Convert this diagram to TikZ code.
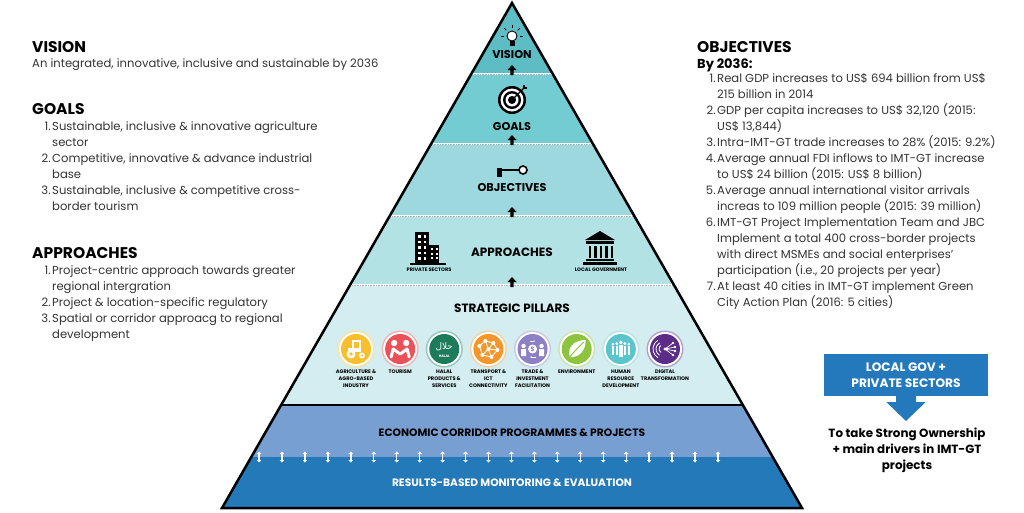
\documentclass[tikz,border=0pt]{standalone}
\usepackage{fontspec}
\setmainfont{Poppins}
\newfontfamily\arabicfont[Script=Arabic]{DejaVu Sans}
\TeXXeTstate=1
\usetikzlibrary{arrows.meta,positioning}
\definecolor{txt}{HTML}{333333}
\definecolor{visfill}{HTML}{5DBCC4}
\definecolor{goafill}{HTML}{73CCD1}
\definecolor{objfill}{HTML}{9CD8DD}
\definecolor{appfill}{HTML}{B3E2E5}
\definecolor{pilfill}{HTML}{D3EDF0}
\definecolor{ecofill}{HTML}{779FD2}
\definecolor{resfill}{HTML}{2479B8}
\definecolor{boxblue}{HTML}{2479BD}
\definecolor{agri}{HTML}{F7BE2D}
\definecolor{tour}{HTML}{EB5158}
\definecolor{halal}{HTML}{1B7B5B}
\definecolor{trans}{HTML}{F5962B}
\definecolor{trade}{HTML}{8E80C5}
\definecolor{envi}{HTML}{8CC43F}
\definecolor{human}{HTML}{5BC5CD}
\definecolor{digit}{HTML}{5C2D86}
\newcommand{\nb}[1]{\makebox[10pt][r]{#1\hspace{1.5pt}}}
\newcommand{\nx}{\hspace*{10pt}}

\begin{document}
\begin{tikzpicture}[x=1pt, y=-1pt, >=Latex]
\tikzstyle{head}=[anchor=base west, inner sep=0, font=\fontsize{15.5}{16}\selectfont\bfseries]
\tikzstyle{body}=[anchor=base west, inner sep=0, text=txt, font=\fontsize{11.6}{16}\selectfont]
\tikzstyle{lvl}=[inner sep=0, font=\fontsize{11.3}{12}\selectfont\bfseries]
\tikzstyle{big}=[inner sep=0, font=\fontsize{12}{13}\selectfont\bfseries]
\tikzstyle{band}=[inner sep=0, font=\fontsize{10.7}{12}\selectfont\bfseries]
\tikzstyle{pilt}=[inner sep=0, anchor=north, align=center, font=\fontsize{5.1}{6.7}\selectfont\bfseries]
\tikzstyle{tiny}=[inner sep=0, font=\fontsize{5}{5}\selectfont\bfseries]
\tikzstyle{box}=[fill=boxblue, text=white, minimum width=164pt, minimum height=42pt, align=center, font=\fontsize{12.2}{15.5}\selectfont\bfseries]
\tikzstyle{sep}=[white, line width=2.5]
\tikzstyle{dot}=[gray!60, line width=0.8, dash pattern=on 0.8pt off 0.8pt]
\tikzset{upa/.pic={\fill (-1.7,0) -- (-1.7,-5) -- (-4.5,-5) -- (0,-10) -- (4.5,-5) -- (1.7,-5) -- (1.7,0) -- cycle;}}

\useasboundingbox (0,0) rectangle (1024,512);

% les couches de la pyramide
\begin{scope}
\clip (512,3) -- (222,508) -- (802,508) -- cycle;
\fill[visfill] (200,0) rectangle (830,74);
\fill[goafill] (200,74) rectangle (830,144);
\fill[objfill] (200,144) rectangle (830,216);
\fill[appfill] (200,216) rectangle (830,285);
\fill[pilfill] (200,285) rectangle (830,405);
\fill[ecofill] (200,405) rectangle (830,457);
\fill[resfill] (200,457) rectangle (830,510);
\foreach \y in {74,144,216,285} {
  \draw[sep] (200,\y) -- (830,\y);
  \draw[dot] (200,\y) -- (830,\y);
}
\draw[line width=2] (200,405) -- (830,405);
\end{scope}
\draw[line width=2.5] (512,3) -- (222,508) -- (802,508) -- cycle;

\foreach \y in {75,145,217,287}
  \pic at (512,\y) {upa};
\foreach \i in {0,...,20}
  \draw[white, line width=1.4, {Triangle[length=2.5pt,width=4.5pt]}-{Triangle[length=2.5pt,width=4.5pt]}] ({259+22.95*\i},451.5) -- ({259+22.95*\i},462.5);

% icones
\foreach \a in {180,225,270,315,360}
  \draw[line width=0.7] (512,36) ++(\a:8) -- ++(\a:3);
\draw[line width=0.9, fill=white] (512,36) circle (5);
\fill (509.5,41) rectangle (514.5,46);
\foreach \r/\c in {14/black,11.5/white,9/black,6.5/white,4/black}
  \fill[\c] (512,100) circle (\r);
\draw[line width=1.3, {Latex[length=4pt]}-] (512,100) -- (524,88);
\draw[line width=1.3] (524,88) -- (527,88) (524,88) -- (524,85);
\draw[line width=2] (497,170) -- (519,170);
\draw[line width=1.6, fill=white] (523,170) circle (4);
\fill (497,168) rectangle (502,177);

\fill (415,232) rectangle (429,263);
\fill (429,245) rectangle (439,263);
\fill (410,263) rectangle (446,265);
\foreach \u in {0,1}
  \foreach \v in {0,...,4}
    \fill[white] ({418+5.5*\u},{235+5.5*\v}) rectangle ++(2.5,2.5);
\foreach \u in {0,1}
  \foreach \v in {0,1,2}
    \fill[white] ({431+4.5*\u},{248+4.5*\v}) rectangle ++(2,2);
\fill (585,240) -- (600,231) -- (615,240) -- cycle;
\fill (586,241) rectangle (614,244);
\foreach \u in {0,...,4}
  \fill ({588.5+5.5*\u},245.5) rectangle ++(2.5,12.5);
\fill (586,258.5) rectangle (614,260.5);
\fill (583,261.5) rectangle (617,264.5);
\node[tiny] (priv) at (429,269.5) {PRIVATE SECTORS};
\node[tiny] (gov) at (601,269.5) {LOCAL GOVERNMENT};

% titres des couches
\node[lvl] (visl) at (512,55) {VISION};
\node[lvl] (goal) at (512,127) {GOALS};
\node[lvl] (objl) at (512,188) {OBJECTIVES};
\node[big] (appl) at (512,252) {APPROACHES};
\node[big] (pill) at (512,308) {STRATEGIC PILLARS};
\node[band] (ecol) at (512,433) {ECONOMIC CORRIDOR PROGRAMMES \& PROJECTS};
\node[band, text=white] (resl) at (512,483) {RESULTS-BASED MONITORING \& EVALUATION};

% piliers
\foreach \c/\t [count=\i] in {agri/{AGRICULTURE \&\\AGRO-BASED\\INDUSTRY}, tour/TOURISM,
    halal/{HALAL\\PRODUCTS \&\\SERVICES}, trans/{TRANSPORT \&\\ICT\\CONNECTIVITY},
    trade/{TRADE \&\\INVESTMENT\\FACILITATION}, envi/ENVIRONMENT,
    human/{HUMAN\\RESOURCE\\DEVELOPMENT}, digit/{DIGITAL\\TRANSFORMATION}} {
  \pgfmathsetmacro\px{356+44.14*(\i-1)}
  \fill[\c!45] (\px,349) circle (18.5);
  \fill[white] (\px,349) circle (17);
  \fill[\c] (\px,349) circle (15);
  \node[pilt] (p\i) at (\px,370) {\t};
}
\begin{scope}[shift={(356,349)}, white]
\fill (-8,-1) rectangle (5,3);
\draw[line width=1.2] (-3,-1) -- (-3,-8) -- (4,-8) -- (4,-1);
\fill (-5,5) circle (4.5) (6,6.5) circle (3);
\fill[agri] (-5,5) circle (1.8) (6,6.5) circle (1.1);
\end{scope}
\begin{scope}[shift={(400.14,349)}, white]
\fill (-6,-6) circle (3.2) (6,-6) circle (3.2);
\draw[line width=3, line cap=round, line join=round] (-9,8) -- (-7,0) -- (0,5) -- (7,0) -- (9,8);
\end{scope}
\begin{scope}[shift={(444.28,349)}]
\node[text=white, inner sep=0, font=\arabicfont\fontsize{9}{9}\selectfont] (ar) at (0,-2) {\beginR حلال\endR};
\node[text=white, inner sep=0, font=\fontsize{3.5}{4}\selectfont\bfseries] (hl) at (0,7) {HALAL};
\end{scope}
\begin{scope}[shift={(488.42,349)}, white]
\draw[line width=0.9] (-9,-3) -- (-3,-8) -- (5,-6) -- (9,1) -- (3,8) -- (-6,6) -- (-9,-3)
  (-3,-8) -- (0,0) -- (5,-6) (0,0) -- (9,1) (0,0) -- (-6,6) (0,0) -- (3,8);
\foreach \q in {(-9,-3),(-3,-8),(5,-6),(9,1),(3,8),(-6,6),(0,0)}
  \fill \q circle (2);
\end{scope}
\begin{scope}[shift={(532.56,349)}, white]
\fill (0,0) circle (4.5);
\node[text=trade, inner sep=0, font=\fontsize{6}{6}\selectfont\bfseries] (usd) at (0,0) {\$};
\fill (-9,-3) circle (2.2) (9,-3) circle (2.2);
\fill (-11.5,0) rectangle (-6.5,7) (6.5,0) rectangle (11.5,7);
\draw[line width=0.8, -{Latex[length=2pt]}] (-3,-8) -- (3,-8);
\draw[line width=0.8, {Latex[length=2pt]}-] (-3,8) -- (3,8);
\end{scope}
\begin{scope}[shift={(576.70,349)}, white]
\fill (-7,8) .. controls (-10,-4) and (0,-9) .. (9,-9) .. controls (9,2) and (2,9) .. (-7,8);
\draw[envi, line width=0.9] (-7,8) .. controls (-2,2) and (3,-3) .. (7,-7);
\end{scope}
\begin{scope}[shift={(620.84,349)}, white]
\foreach \u/\s in {-8/0.8,-4/0.9,0/1.1,4/0.9,8/0.8} {
  \fill (\u,{-6*\s}) circle ({1.8*\s});
  \fill ({\u-1.5*\s},{-3.5*\s}) rectangle ({\u+1.5*\s},{7*\s});
}
\end{scope}
\begin{scope}[shift={(664.98,349)}, white]
\foreach \r in {4,7,10}
  \draw[line width=0.8] (-2,0) ++(120:\r) arc (120:240:\r);
\draw[line width=0.7] (0,0) -- (8,-6) (0,0) -- (10,-2) (0,0) -- (10,2) (0,0) -- (8,6);
\foreach \q in {(8,-6),(10,-2),(10,2),(8,6)}
  \fill \q circle (1.3);
\fill (0,0) circle (1.6);
\end{scope}

% texte de gauche
\node[head] (vision) at (32,52.5) {VISION};
\node[body] (vtxt) at (32,67) {An integrated, innovative, inclusive and sustainable by 2036};
\node[head] (goals) at (32,114.5) {GOALS};
\foreach \t [count=\i] in {{\nb{1.}Sustainable, inclusive \& innovative agriculture}, {\nx sector},
    {\nb{2.}Competitive, innovative \& advance industrial}, {\nx base},
    {\nb{3.}Sustainable, inclusive \& competitive cross-}, {\nx border tourism}}
  \node[body] (g\i) at (42,{130+16*(\i-1)}) {\t};
\node[head] (appr) at (32,258.5) {APPROACHES};
\foreach \t [count=\i] in {{\nb{1.}Project-centric approach towards greater}, {\nx regional intergration},
    {\nb{2.}Project \& location-specific regulatory},
    {\nb{3.}Spatial or corridor approacg to regional}, {\nx development}}
  \node[body] (a\i) at (42,{274+16*(\i-1)}) {\t};

% texte de droite
\node[head] (obj) at (697,52.5) {OBJECTIVES};
\node[body, text=black, font=\fontsize{13}{16}\selectfont\bfseries] (by) at (697,68.5) {By 2036:};
\foreach \t [count=\i] in {{\nb{1.}Real GDP increases to US\$ 694 billion from US\$}, {\nx 215 billion in 2014},
    {\nb{2.}GDP per capita increases to US\$ 32,120 (2015:}, {\nx US\$ 13,844)},
    {\nb{3.}Intra-IMT-GT trade increases to 28\% (2015: 9.2\%)},
    {\nb{4.}Average annual FDI inflows to IMT-GT increase}, {\nx to US\$ 24 billion (2015: US\$ 8 billion)},
    {\nb{5.}Average annual international visitor arrivals}, {\nx increas to 109 million people (2015: 39 million)},
    {\nb{6.}IMT-GT Project Implementation Team and JBC}, {\nx Implement a total 400 cross-border projects},
    {\nx with direct MSMEs and social enterprises’}, {\nx participation (i.e., 20 projects per year)},
    {\nb{7.}At least 40 cities in IMT-GT implement Green}, {\nx City Action Plan (2016: 5 cities)}}
  \node[body] (o\i) at (707,{82+16*(\i-1)}) {\t};

% encadré
\node[box] (lgps) at (906,375) {LOCAL GOV +\\PRIVATE SECTORS};
\fill[boxblue] ([xshift=-10pt]lgps.south) -- ++(0,6) -- ++(-9.5,0) -- (906,421)
  -- ([xshift=19.5pt,yshift=-6pt]lgps.south) -- ++(-9.5,0) -- ([xshift=10pt]lgps.south) -- cycle;
\node[align=center, inner sep=0, font=\fontsize{11.9}{16}\selectfont\bfseries] (own) at (907,450)
  {To take Strong Ownership\\+ main drivers in IMT-GT\\projects};
\end{tikzpicture}
\end{document}
